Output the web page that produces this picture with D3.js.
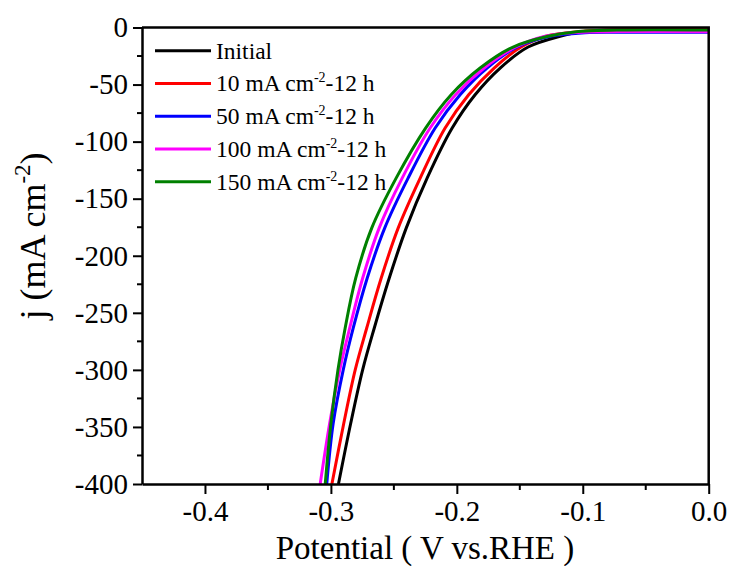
<!DOCTYPE html>
<html>
<head>
<meta charset="utf-8">
<script src="https://cdn.jsdelivr.net/npm/d3@7"></script>
<style>
  body { margin: 0; background: #fff; }
  svg text { font-family: 'Liberation Serif', 'DejaVu Serif', 'Noto Serif', serif !important; fill: #000; }
</style>
</head>
<body>
<div id="container"></div>
<script>
/* CONSTANTS AND GLOBALS */
const width = 732,
  height = 566,
  margin = { top: 27.5, right: 23.3, bottom: 82, left: 142 };
const serif = "'Liberation Serif', 'DejaVu Serif', 'Noto Serif', serif";

/* DATA  (potential V vs RHE, current density mA cm-2) */
const seriesNames = ["Initial", "10 mA cm", "50 mA cm", "100 mA cm", "150 mA cm"];
const seriesColors = ["#000000", "#ff0000", "#0000ff", "#ff00ff", "#008000"];

const initial = [
  [-0.2940, -400], [-0.2843, -347], [-0.2748, -300], [-0.2656, -263.5], [-0.2537, -219.7],
  [-0.2402, -175.8], [-0.2236, -132], [-0.2037, -88.1], [-0.1855, -58.9], [-0.1656, -35.5],
  [-0.1434, -17.1], [-0.1180, -7.7], [-0.1021, -3.9], [-0.0704, -2.3], [0.0, -2.0]
];
const after10 = [
  [-0.2992, -400], [-0.2898, -347], [-0.2807, -300], [-0.2716, -263.5], [-0.2601, -219.7],
  [-0.2466, -175.8], [-0.2291, -132], [-0.2093, -88.1], [-0.1906, -58.9], [-0.1704, -35.5],
  [-0.1490, -17.1], [-0.1291, -7.7], [-0.1021, -3.6], [-0.0704, -2.0], [0.0, -1.6]
];
const after50 = [
  [-0.3033, -400], [-0.2982, -347], [-0.2902, -300], [-0.2823, -263.5], [-0.2712, -219.7],
  [-0.2573, -175.8], [-0.2387, -132], [-0.2172, -88.1], [-0.1974, -58.9], [-0.1760, -35.5],
  [-0.1521, -17.1], [-0.1259, -7.7], [-0.0982, -4.6], [-0.0704, -4.2], [0.0, -4.2]
];
const after100 = [
  [-0.3085, -400], [-0.3010, -347], [-0.2930, -300], [-0.2851, -263.5], [-0.2748, -219.7],
  [-0.2617, -175.8], [-0.2434, -132], [-0.2212, -88.1], [-0.2010, -58.9], [-0.1783, -35.5],
  [-0.1533, -17.1], [-0.1299, -7.7], [-0.1061, -4.3], [-0.0704, -3.6], [0.0, -3.7]
];
const after150 = [
  [-0.3045, -400], [-0.3000, -347], [-0.2944, -300], [-0.2887, -263.5], [-0.2803, -219.7],
  [-0.2676, -175.8], [-0.2482, -132], [-0.2248, -88.1], [-0.2045, -58.9], [-0.1815, -35.5],
  [-0.1553, -17.1], [-0.1275, -7.7], [-0.1061, -3.9], [-0.0704, -2.2], [0.0, -2.2]
];
const allSeries = [initial, after10, after50, after100, after150];

const xTicks = [-0.4, -0.3, -0.2, -0.1, 0.0];
const xMinor = [-0.35, -0.25, -0.15, -0.05];
const yTicks = [0, -50, -100, -150, -200, -250, -300, -350, -400];
const yMinor = [-25, -75, -125, -175, -225, -275, -325, -375];

const svg = d3.select("#container")
  .append("svg")
  .attr("width", width)
  .attr("height", height)
  .style("font-family", serif)
  .style("background-color", "white");

/* SCALES */
const xScale = d3.scaleLinear()
  .domain([-0.45, 0])
  .range([margin.left, width - margin.right]);

const yScale = d3.scaleLinear()
  .domain([-400, 0])
  .range([height - margin.bottom, margin.top]);

const fmtX = d => d3.format(".1f")(d).replace("\u2212", "-");
const fmtY = d => String(d);

/* CURVES */
const line = d3.line()
  .x(d => xScale(d[0]))
  .y(d => yScale(d[1]))
  .curve(d3.curveCatmullRom.alpha(0.5));

svg.append("g")
  .selectAll("path")
  .data(allSeries)
  .join("path")
  .attr("d", line)
  .attr("fill", "none")
  .attr("stroke", (d, i) => seriesColors[i])
  .attr("stroke-width", 3);

/* AXES */
const xAxis = d3.axisBottom(xScale)
  .tickValues(xTicks)
  .tickFormat(fmtX)
  .tickSize(10)
  .tickPadding(6)
  .tickSizeOuter(0);

const gx = svg.append("g")
  .attr("transform", `translate(0, ${height - margin.bottom})`)
  .call(xAxis);

const yAxis = d3.axisLeft(yScale)
  .tickValues(yTicks)
  .tickFormat(fmtY)
  .tickSize(9)
  .tickPadding(5)
  .tickSizeOuter(0);

const gy = svg.append("g")
  .attr("transform", `translate(${margin.left}, 0)`)
  .call(yAxis);

[gx, gy].forEach(g => {
  g.attr("font-family", null);
  g.select(".domain").attr("stroke", "#000").attr("stroke-width", 2.5);
  g.selectAll(".tick line").attr("stroke", "#000").attr("stroke-width", 2);
  g.selectAll(".tick text")
    .style("font-family", serif)
    .attr("font-size", 29)
    .attr("fill", "#000");
});

// minor ticks
svg.append("g")
  .selectAll("line")
  .data(xMinor)
  .join("line")
  .attr("x1", d => xScale(d)).attr("x2", d => xScale(d))
  .attr("y1", height - margin.bottom).attr("y2", height - margin.bottom + 6)
  .attr("stroke", "#000").attr("stroke-width", 2);

svg.append("g")
  .selectAll("line")
  .data(yMinor)
  .join("line")
  .attr("x1", margin.left - 5).attr("x2", margin.left)
  .attr("y1", d => yScale(d)).attr("y2", d => yScale(d))
  .attr("stroke", "#000").attr("stroke-width", 2);

// top and right frame
svg.append("path")
  .attr("d", `M${margin.left},${margin.top}H${width - margin.right}V${height - margin.bottom}`)
  .attr("fill", "none")
  .attr("stroke", "#000")
  .attr("stroke-width", 2.5);

/* TITLES */
svg.append("text")
  .attr("x", 425)
  .attr("y", 559)
  .attr("text-anchor", "middle")
  .attr("font-size", 33)
  .style("font-family", serif)
  .text("Potential ( V vs.RHE )");

const yTitle = svg.append("text")
  .attr("transform", "translate(45, 236) rotate(-90)")
  .attr("text-anchor", "middle")
  .attr("font-size", 36)
  .style("font-family", serif);
yTitle.append("tspan").text("j (mA cm");
yTitle.append("tspan").attr("font-size", 23).attr("dy", -15).text("-2");
yTitle.append("tspan").attr("dy", 15).text(")");

/* LEGEND */
const legend = svg.append("g");
const rowY = i => 50.7 + i * 32.75;

legend.selectAll("line")
  .data(seriesNames)
  .join("line")
  .attr("x1", 155).attr("x2", 211)
  .attr("y1", (d, i) => rowY(i)).attr("y2", (d, i) => rowY(i))
  .attr("stroke", (d, i) => seriesColors[i])
  .attr("stroke-width", 3);

legend.selectAll("text")
  .data(seriesNames)
  .join("text")
  .attr("x", 216)
  .attr("y", (d, i) => rowY(i) + 8)
  .attr("font-size", 23.5)
  .style("font-family", serif)
  .each(function (d, i) {
    const t = d3.select(this);
    t.append("tspan").text(d);
    if (i > 0) {
      t.append("tspan").attr("font-size", 14).attr("dy", -9).text("-2");
      t.append("tspan").attr("dy", 9).text("-12 h");
    }
  });
</script>
</body>
</html>
